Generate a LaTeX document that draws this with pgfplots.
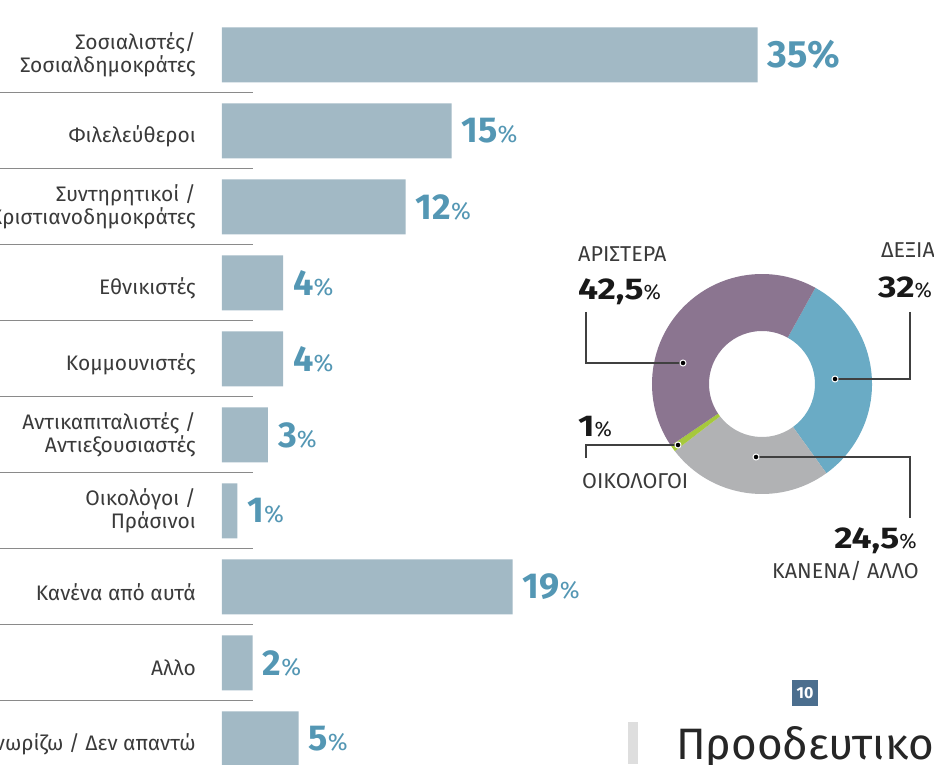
\documentclass[border=0pt]{standalone}
\usepackage{fontspec}
\setmainfont{Fira Sans}
\newfontfamily\widebold[FakeStretch=1.18]{Fira Sans}
\usepackage{pgfplots}
\pgfplotsset{compat=1.18}
\definecolor{barc}{HTML}{A2B9C5}
\definecolor{numc}{HTML}{5497B4}
\definecolor{txtc}{HTML}{3A3A3A}
\definecolor{sepc}{HTML}{8A8A8A}
\definecolor{cpurp}{HTML}{8B7590}
\definecolor{cblue}{HTML}{6AABC5}
\definecolor{cgray}{HTML}{B1B2B4}
\definecolor{cgreen}{HTML}{A6C83C}
\definecolor{boxc}{HTML}{4B6E8E}
\protected\def\nb#1{{\fontsize{36}{36}\selectfont\bfseries #1}{\fontsize{24}{24}\selectfont\%}}
\protected\def\nbb#1{{\fontsize{38}{38}\selectfont\bfseries #1\%}}
\protected\def\pct#1{{\widebold\fontsize{30}{30}\selectfont\bfseries #1}{\fontsize{21}{21}\selectfont\%}}
\protected\def\one#1{\raisebox{-5pt}[\height][\depth]{#1}}
\def\R{110}\def\r{53}
% annular sector: start angle, percent, colour (clockwise)
\newcommand\wedgeseg[3]{%
  \pgfmathsetmacro\aa{#1}\pgfmathsetmacro\bb{#1-3.6*#2}%
  \pgfmathsetmacro\xo{\R*cos(\aa)}\pgfmathsetmacro\yo{\R*sin(\aa)}%
  \pgfmathsetmacro\xi{\r*cos(\bb)}\pgfmathsetmacro\yi{\r*sin(\bb)}%
  \edef\tmp{\noexpand\fill[#3] (axis cs:\xo,\yo) arc[start angle=\aa, end angle=\bb, radius=\R pt]
     -- (axis cs:\xi,\yi) arc[start angle=\bb, end angle=\aa, radius=\r pt] -- cycle;}\tmp}
\begin{document}
\begin{tikzpicture}[x=1pt,y=1pt]
\path[use as bounding box] (0,0) rectangle (934,764);
\clip (0,0) rectangle (934,764);
% ---------------- bar chart ----------------
\begin{axis}[
  at={(222pt,747pt)}, anchor=north west,
  x=15.3pt, y=76pt,
  xmin=0, xmax=45, ymin=-0.5, ymax=9.5,
  axis line style={draw=none},
  major tick length=0pt, tick style={draw=none},
  xtick=\empty,
  ytick={0,...,9},
  yticklabels={{\one{Δεν γνωρίζω / Δεν απαντώ}},{\one{Αλλο}},{\one{Κανένα από αυτά}},{Οικολόγοι /\\Πράσινοι},{Αντικαπιταλιστές /\\Αντιεξουσιαστές},{\one{Κομμουνιστές}},{\one{Εθνικιστές}},{Συντηρητικοί /\\Χριστιανοδημοκράτες},{\one{Φιλελεύθεροι}},{Σοσιαλιστές/\\Σοσιαλδημοκράτες}},
  yticklabel style={align=right, inner sep=0pt, xshift=-26pt, text=txtc, font=\fontsize{21}{22.5}\selectfont},
  clip=false,
  xbar, bar width=55pt, bar shift=0pt,
  nodes near coords, point meta=explicit symbolic,
  every node near coord/.append style={anchor=west, inner sep=0pt, xshift=10pt, text=numc},
]
\addplot[fill=barc, draw=none] coordinates {
 (35,9) [\nbb{35}]
 (15,8) [\nb{15}]
 (12,7) [\nb{12}]
 (4,6) [\nb{4}]
 (4,5) [\nb{4}]
 (3,4) [\nb{3}]
 (1,3) [\nb{1}]
 (19,2) [\nb{19}]
 (2,1) [\nb{2}]
 (5,0) [\nb{5}]
};
\pgfplotsinvokeforeach{0.5,1.5,2.5,3.5,4.5,5.5,6.5,7.5,8.5}{
  \draw[sepc, line width=1pt] (axis cs:-14.6,#1) -- (axis cs:2.03,#1);
}
\end{axis}
% ---------------- donut ----------------
\begin{axis}[
  at={(762pt,380pt)}, anchor=center,
  x=1pt, y=1pt,
  xmin=-120, xmax=120, ymin=-120, ymax=120,
  hide axis, clip=false,
]
% values (percent): ΔΕΞΙΑ 32, ΚΑΝΕΝΑ/ΑΛΛΟ 24.5, ΟΙΚΟΛΟΓΟΙ 1, ΑΡΙΣΤΕΡΑ 42.5 ; clockwise from 61 degrees
\wedgeseg{61}{32}{cblue}
\wedgeseg{61-3.6*32}{24.5}{cgray}
\wedgeseg{61-3.6*56.5}{1}{cgreen}
\wedgeseg{61-3.6*57.5}{42.5}{cpurp}
% leader lines
\addplot[black!75, line width=1.1pt, mark=none] coordinates {(-176,72) (-176,21) (-79,21)};
\addplot[black!75, line width=1.1pt, mark=none] coordinates {(148,72) (148,5) (73,5)};
\addplot[black!75, line width=1.1pt, mark=none] coordinates {(-176,-74) (-176,-61) (-84,-61)};
\addplot[black!75, line width=1.1pt, mark=none] coordinates {(-6,-73) (148,-73) (148,-134)};
\addplot[only marks, mark=*, mark size=3pt, mark options={fill=black, draw=white, line width=1pt}] coordinates {(-79,21) (73,5) (-84,-61) (-6,-73)};
\end{axis}
% donut labels
\begin{scope}[every node/.style={inner sep=0pt}]
\node[anchor=base west, text=txtc, font=\fontsize{21.5}{21.5}\selectfont] at (578,502) {ΑΡΙΣΤΕΡΑ};
\node[anchor=base west, text=black!90] at (578,464) {\pct{42,5}};
\node[anchor=base west, text=txtc, font=\fontsize{21.5}{21.5}\selectfont] at (881,506) {ΔΕΞΙΑ};
\node[anchor=base west, text=black!90] at (878,466) {\pct{32}};
\node[anchor=base west, text=black!90] at (578,328) {\pct{1}};
\node[anchor=base west, text=txtc, font=\fontsize{21.5}{21.5}\selectfont] at (582,276) {ΟΙΚΟΛΟΓΟΙ};
\node[anchor=base east, text=black!90] at (917,216) {\pct{24,5}};
\node[anchor=base east, text=txtc, font=\fontsize{21.5}{21.5}\selectfont] at (919,186) {ΚΑΝΕΝΑ/ ΑΛΛΟ};
% page furniture
\fill[boxc] (792,58) rectangle (818,84);
\node[text=white, font=\fontsize{16}{16}\selectfont\bfseries] at (805,71) {10};
\fill[black!13] (628,0) rectangle (638,42);
\node[anchor=base west, text=black!85, font=\fontsize{44}{44}\selectfont] at (676,5) {Προοδευτικοί};
\end{scope}
\end{tikzpicture}
\end{document}
